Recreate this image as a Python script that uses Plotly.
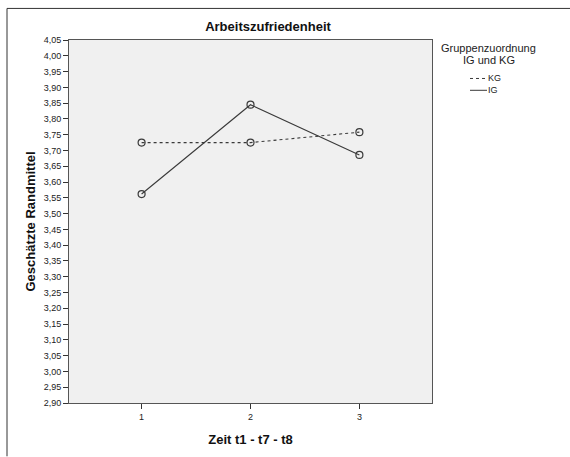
import plotly.graph_objects as go

# Estimated marginal means per measurement time
zeitpunkte = [1, 2, 3]
kg_werte = [3.725, 3.725, 3.758]
ig_werte = [3.562, 3.845, 3.686]

y_ticks = [round(2.90 + 0.05 * i, 2) for i in range(24)]

W, H = 570, 457
L, R, T, B = 69, 432, 40, 408  # plot area in pixels


def px(x):
    return (x - L) / (R - L)


def py(y):
    return (B - y) / (B - T)


FONT = "Liberation Sans, Arial, sans-serif"
LINE = "#3a3a3a"

fig = go.Figure()
fig.add_trace(go.Scatter(
    x=zeitpunkte, y=kg_werte, name="KG", mode="lines+markers",
    line=dict(color=LINE, width=1.1, dash="3px,3px"),
    marker=dict(symbol="circle-open", size=7, color=LINE, line=dict(width=1.2)),
))
fig.add_trace(go.Scatter(
    x=zeitpunkte, y=ig_werte, name="IG", mode="lines+markers",
    line=dict(color=LINE, width=1.1),
    marker=dict(symbol="circle-open", size=7, color=LINE, line=dict(width=1.2)),
))

fig.update_layout(
    width=W, height=H,
    margin=dict(l=L, r=W - R, t=T, b=H - B, pad=0),
    paper_bgcolor="white",
    plot_bgcolor="#f0f0f0",
    showlegend=False,
    separators=",.",
    font=dict(family=FONT, color="#1a1a1a"),
    title=dict(text="<b>Arbeitszufriedenheit</b>", x=px(268), xref="paper",
               xanchor="center", y=1 - 26 / H, yanchor="middle",
               font=dict(size=13, color="#111")),
)

fig.update_xaxes(
    range=[1 / 3, 3 + 2 / 3], tickvals=zeitpunkte, ticktext=[str(v) for v in zeitpunkte],
    ticks="outside", ticklen=5, tickcolor="#333", tickwidth=1,
    tickfont=dict(size=9, color="#222"),
    showgrid=False, zeroline=False,
    showline=True, linecolor="#555", linewidth=1, mirror=True,
    title=dict(text="<b>Zeit t1 - t7 - t8</b>", font=dict(size=13, color="#111"), standoff=14),
)
fig.update_yaxes(
    range=[2.90, 4.05], tickvals=y_ticks, tickformat=".2f",
    ticks="outside", ticklen=5, tickcolor="#333", tickwidth=1,
    tickfont=dict(size=9, color="#222"),
    showgrid=False, zeroline=False,
    showline=True, linecolor="#555", linewidth=1, mirror=True,
    title=dict(text="<b>Geschätzte Randmittel</b>", font=dict(size=13, color="#111"), standoff=5),
)

# Legend drawn by hand: title and two line samples
fig.add_annotation(x=px(489), y=py(48), xref="paper", yref="paper",
                   text="Gruppenzuordnung", showarrow=False,
                   font=dict(size=11, color="#222"), xanchor="center", yanchor="middle")
fig.add_annotation(x=px(489), y=py(60), xref="paper", yref="paper",
                   text="IG und KG", showarrow=False,
                   font=dict(size=11, color="#222"), xanchor="center", yanchor="middle")
for label, dash, ypix in [("KG", "dash", 79), ("IG", "solid", 91)]:
    fig.add_shape(type="line", xref="paper", yref="paper",
                  x0=px(470), x1=px(487), y0=py(ypix), y1=py(ypix),
                  line=dict(color=LINE, width=1, dash="3px,3px" if dash == "dash" else "solid"))
    fig.add_annotation(x=px(486), y=py(ypix), xref="paper", yref="paper",
                       text=label, showarrow=False, xanchor="left", yanchor="middle",
                       font=dict(size=9, color="#222"))

# Outer frame (top and left edges)
fig.add_shape(type="line", xref="paper", yref="paper",
              x0=px(7), x1=px(W + 5), y0=py(8), y1=py(8),
              line=dict(color="#333", width=1))
fig.add_shape(type="line", xref="paper", yref="paper",
              x0=px(7), x1=px(7), y0=py(8), y1=py(H + 5),
              line=dict(color="#333", width=1))

fig.write_html("out.html")
